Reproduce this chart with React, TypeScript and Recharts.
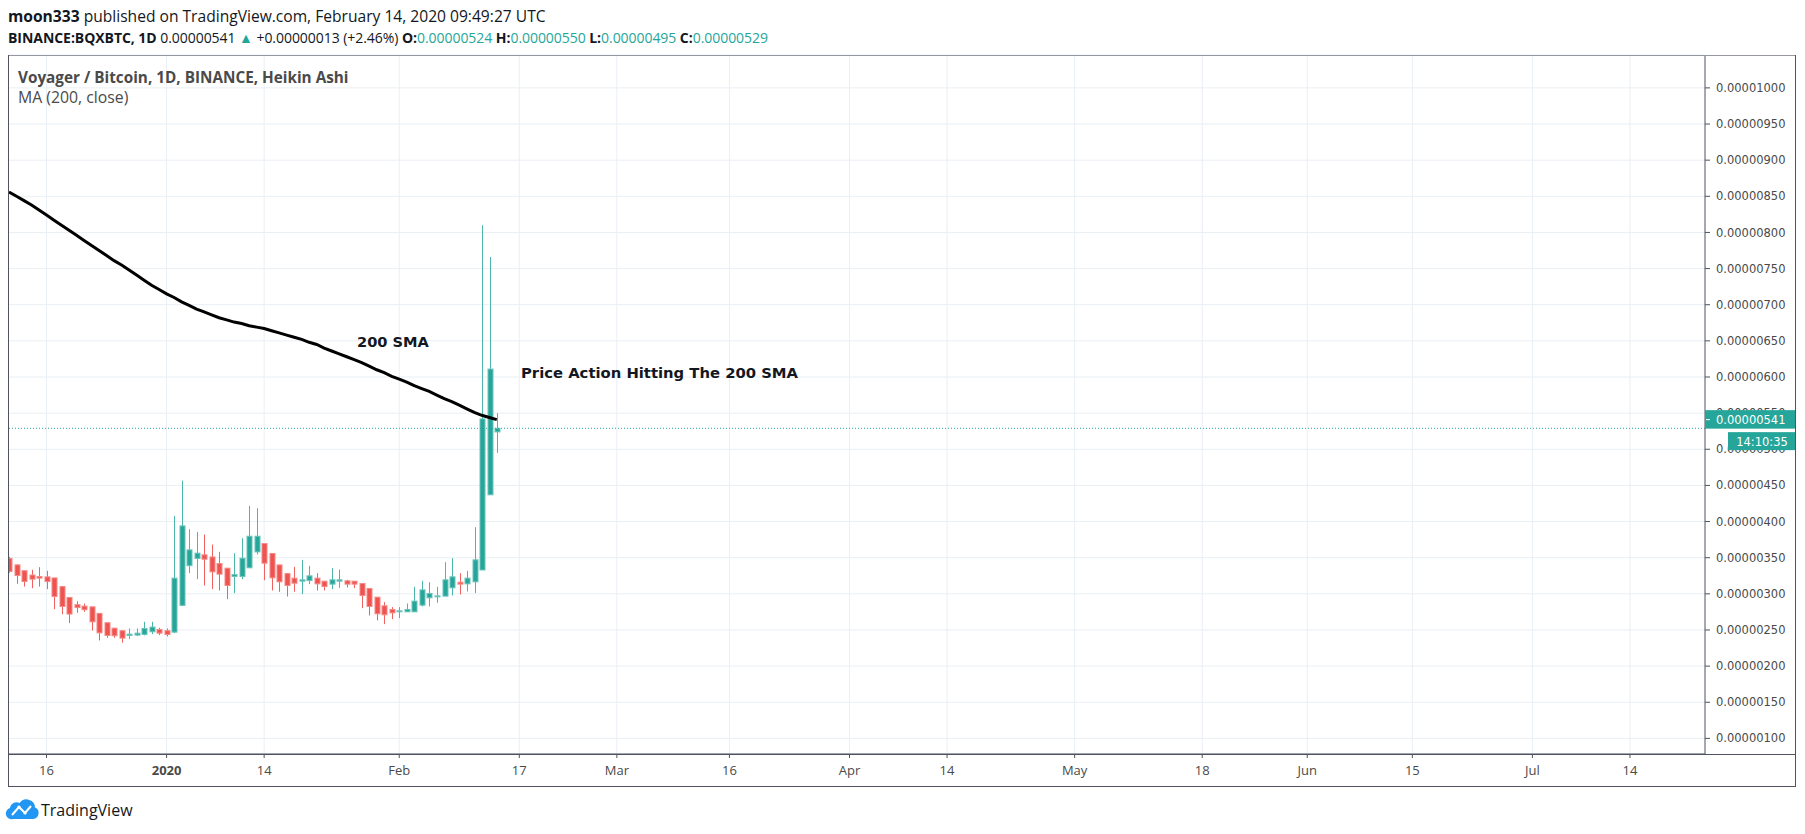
import React from "react";
import {
  ComposedChart,
  Bar,
  Line,
  XAxis,
  YAxis,
  CartesianGrid,
  ReferenceLine,
} from "recharts";

// BINANCE:BQXBTC daily Heikin Ashi candles, Dec 11 2019 .. Feb 14 2020
// prices in satoshi (1e-8 BTC); day 0 = Jan 1 2020
const FIRST_DAY = -21;

const haOpen = [
  349, 340, 332, 326, 324, 323.5, 322, 310, 295, 285, 283, 282, 273, 260, 252.5, 249,
  242.4, 242.9, 243.8, 247.5, 250.7, 249, 247, 284, 339, 349, 354, 351, 342, 335.5,
  324, 324, 336, 358, 369.6, 355.8, 340, 328, 321.7, 317.5, 318.4, 321.7, 317.5, 313.4,
  317.5, 318, 317.5, 314.3, 307.4, 295.4, 283.4, 278.4, 275.1, 275.1, 275.1, 284.3,
  294.5, 296.3, 296.8, 308.3, 316.1, 313.8, 316.6, 333, 437, 524,
];
const haHigh = [
  351, 341, 332, 333.2, 336.9, 331.8, 322, 310, 295.4, 289.9, 286.6, 281.6, 273.3, 259.5,
  252.5, 248.9, 252.1, 252.1, 261.3, 261.3, 253, 252.1, 407.8, 456.7, 389.4, 385.7, 382,
  368.2, 358.1, 335.5, 356.2, 377, 421.7, 418.4, 369.6, 355.8, 340.1, 328.1, 337.3, 347,
  338.7, 328.6, 317.5, 335.5, 333.6, 319.4, 317.5, 314.3, 307.4, 295.4, 288.5, 281.6,
  281.6, 286.6, 309.7, 318, 316.1, 309.7, 343.8, 349.3, 328.6, 331.8, 392.2, 810, 766, 550,
];
const haLow = [
  329, 313.8, 310.1, 307.8, 310.1, 306.5, 278.8, 271.9, 259.5, 273.7, 275.1, 249.3, 235.5,
  239.2, 239.2, 232.3, 237.3, 242, 242.4, 244.2, 242.9, 241, 245.6, 284, 328.6, 320.3,
  311.5, 306.5, 304.6, 292.6, 300.9, 320.3, 336, 354.4, 318.9, 304.6, 302.8, 296.3, 302.8,
  299.6, 313.4, 304.6, 304.6, 306.5, 308.3, 308.8, 307.9, 280.2, 270.1, 263.2, 258.1, 265,
  266.4, 275.1, 275.1, 282.5, 282.5, 287.6, 296.8, 297.7, 299.1, 303.2, 300.9, 333, 437, 495,
];
const haClose = [
  331, 325.4, 317, 320.3, 321.7, 317, 296.3, 282.5, 272, 281, 278, 261.3, 246, 242.4, 242,
  238.7, 244.2, 245.6, 252, 254, 245.6, 243.8, 321.7, 394, 360.8, 356.3, 347.9, 330.4,
  327.2, 311.5, 326.7, 349.3, 379.7, 379.7, 342.4, 322.1, 316.6, 311.5, 314.7, 319.4,
  324.9, 313.8, 310.1, 319.4, 319.4, 313.4, 313.4, 297.7, 282.5, 272.4, 271, 273.7, 276.5,
  278.4, 289.9, 305.5, 300.5, 297.2, 319.4, 323.5, 313.4, 321.7, 347, 542, 611, 529,
];
const sma200 = [
  856, 850, 844, 838, 831, 824, 817, 810, 803, 796, 789, 782, 775, 768, 761, 755, 748, 741,
  734, 727, 721, 715, 710, 704, 699, 694, 690, 686, 682, 679, 676, 674, 671, 669, 667, 664,
  661, 658, 655, 652, 648, 645, 640, 636, 632, 628, 624, 620, 615, 610, 606, 601, 597, 593,
  588, 584, 580, 575, 570, 566, 561, 556, 551, 547, 544, 541,
];

const timeTickDays = [-16, 0, 13, 31, 47, 60, 75, 91, 104, 121, 138, 152, 166, 182, 195];
const timeTickLabels = [
  "16", "2020", "14", "Feb", "17", "Mar", "16", "Apr", "14", "May", "18", "Jun", "15", "Jul", "14",
];
const priceTicks = [
  100, 150, 200, 250, 300, 350, 400, 450, 500, 550, 600, 650, 700, 750, 800, 850, 900, 950, 1000,
];

const LAST_PRICE = 541;
const HA_CLOSE_LINE = 529;
const COUNTDOWN = "14:10:35";

const X_DOMAIN = [-21, 205];
const Y_DOMAIN = [78.4, 1045.5];
// plot area (pane) in page pixels, same as the chart margins below
const PLOT_TOP = 55;
const PLOT_H = 699;
const PLOT_RIGHT = 1705;

const UP = "#26a69a";
const DOWN = "#ef5350";
const GRID = "#e9eff4";
const AXIS = "#50535e";
const TEXT = "#4a4a4a";
const SANS = "'Open Sans', sans-serif";
const AXIS_FONT = "'DejaVu Sans', sans-serif";
const TIME_FONT = "'Liberation Sans Narrow', 'Open Sans', sans-serif";

const rows = haOpen.map((o, i) => ({
  d: FIRST_DAY + i,
  o,
  h: haHigh[i],
  l: haLow[i],
  c: haClose[i],
  ma: sma200[i],
}));

const Candle = (props: any) => {
  const { x, y, width, height, payload } = props;
  if (x == null || !payload) return null;
  const { o, h, l, c } = payload;
  const top = Math.min(y, y + height);
  const bot = Math.max(y, y + height);
  const span = h - l || 1;
  const py = (v: number) => top + ((h - v) / span) * (bot - top);
  const cx = Math.round(x + width / 2) + 0.5;
  const up = c >= o;
  const bodyTop = py(Math.max(o, c));
  const bodyBot = py(Math.min(o, c));
  return (
    <g>
      <line x1={cx} x2={cx} y1={top} y2={bot} stroke={up ? "#4db6ac" : "#f0625f"} strokeWidth={1} />
      <rect
        x={cx - 2.5}
        y={bodyTop}
        width={5}
        height={Math.max(bodyBot - bodyTop, 1)}
        fill={up ? UP : DOWN}
        stroke={up ? "#6cc4ba" : "#f58a87"}
        strokeWidth={1}
      />
    </g>
  );
};

const TimeTick = (props: any) => {
  const { x, y, payload } = props;
  const i = timeTickDays.indexOf(payload.value);
  const label = i >= 0 ? timeTickLabels[i] : "";
  return (
    <text
      x={x}
      y={y + 15}
      textAnchor="middle"
      fontFamily={TIME_FONT}
      fontSize={13}
      fontWeight={label === "2020" ? 700 : 400}
      fill={TEXT}
    >
      {label}
    </text>
  );
};

// last price tag on the price scale, drawn above the axis labels
const PriceTag = () => {
  const cy =
    PLOT_TOP + ((Y_DOMAIN[1] - LAST_PRICE) / (Y_DOMAIN[1] - Y_DOMAIN[0])) * PLOT_H;
  const right = PLOT_RIGHT;
  return (
    <g>
      <rect x={right} y={cy - 9.5} width={91} height={18.5} fill={UP} />
      <line x1={right + 1} x2={right + 5} y1={cy} y2={cy} stroke="#fff" />
      <text x={right + 11} y={cy + 4} fill="#fff" fontFamily={AXIS_FONT} fontSize={11.5}>
        {(LAST_PRICE / 1e8).toFixed(8)}
      </text>
      <rect x={right + 23} y={cy + 12.5} width={68} height={18} fill={UP} />
      <text
        x={right + 57}
        y={cy + 26}
        textAnchor="middle"
        fill="#fff"
        fontFamily={AXIS_FONT}
        fontSize={11.5}
      >
        {COUNTDOWN}
      </text>
    </g>
  );
};

const Overlay = () => (
  <svg
    width={1805}
    height={834}
    style={{ position: "absolute", left: 0, top: 0, pointerEvents: "none" }}
  >
    {/* header */}
    <text x={8} y={22} fontFamily={SANS} fontSize={15.6} fill="#131722">
      <tspan fontWeight={700}>moon333</tspan>
      <tspan> published on TradingView.com, February 14, 2020 09:49:27 UTC</tspan>
    </text>
    <text x={8} y={43} fontFamily={SANS} fontSize={14} letterSpacing={-0.05} fill="#131722">
      <tspan fontWeight={700}>BINANCE:BQXBTC, 1D</tspan>
      <tspan> 0.00000541 </tspan>
      <tspan fill={UP}>▲</tspan>
      <tspan> +0.00000013 (+2.46%) </tspan>
      <tspan fontWeight={700}>O:</tspan>
      <tspan fill={UP}>0.00000524</tspan>
      <tspan fontWeight={700}> H:</tspan>
      <tspan fill={UP}>0.00000550</tspan>
      <tspan fontWeight={700}> L:</tspan>
      <tspan fill={UP}>0.00000495</tspan>
      <tspan fontWeight={700}> C:</tspan>
      <tspan fill={UP}>0.00000529</tspan>
    </text>

    {/* pane legend */}
    <text x={18} y={82.5} fontFamily={SANS} fontSize={15.3} fontWeight={700} fill={TEXT}>
      Voyager / Bitcoin, 1D, BINANCE, Heikin Ashi
    </text>
    <text x={18} y={103} fontFamily={SANS} fontSize={15.8} fill={TEXT}>
      MA (200, close)
    </text>

    {/* annotations */}
    <text x={357} y={347} fontFamily="'DejaVu Sans', sans-serif" fontWeight={700} fontSize={14.6} fill="#131722">
      200 SMA
    </text>
    <text x={521} y={378} fontFamily="'DejaVu Sans', sans-serif" fontWeight={700} fontSize={14.8} fill="#131722">
      Price Action Hitting The 200 SMA
    </text>

    <PriceTag />

    {/* frame */}
    <g stroke={AXIS} strokeWidth={1} fill="none">
      <line x1={8.5} x2={1795.5} y1={55.5} y2={55.5} stroke="#9598a1" />
      <line x1={8.5} x2={8.5} y1={55} y2={787} />
      <line x1={1795.5} x2={1795.5} y1={55} y2={787} />
      <line x1={8.5} x2={1795.5} y1={754.5} y2={754.5} />
      <line x1={8.5} x2={1795.5} y1={786.5} y2={786.5} />
    </g>

    {/* logo */}
    <g>
      <path
        d="M13 819 H33 A6 6 0 0 0 35 807.5 A8.5 8.5 0 0 0 19.5 803 A6.5 6.5 0 0 0 10 808 A5.6 5.6 0 0 0 13 819 Z"
        fill="#2196f3"
      />
      <polyline points="12,815 19,807 25,813 31,806" fill="none" stroke="#fff" strokeWidth={2} />
      <circle cx={19} cy={807} r={1.6} fill="#fff" />
      <circle cx={25} cy={813} r={1.6} fill="#fff" />
      <text x={41} y={816} fontFamily={SANS} fontSize={16} fill="#131722">
        TradingView
      </text>
    </g>
  </svg>
);

export default function App() {
  return (
    <div
      style={{
        position: "absolute",
        left: 0,
        top: 0,
        width: 1805,
        height: 834,
        background: "#fff",
      }}
    >
      <ComposedChart
        width={1805}
        height={834}
        data={rows}
        margin={{ top: PLOT_TOP, right: 9, bottom: 47, left: 9 }}
      >
        <CartesianGrid stroke={GRID} verticalValues={timeTickDays} />
        <XAxis
          dataKey="d"
          type="number"
          domain={X_DOMAIN}
          allowDataOverflow
          ticks={timeTickDays}
          interval={0}
          height={33}
          tickSize={4}
          tickMargin={2}
          stroke={AXIS}
          tick={<TimeTick />}
        />
        <YAxis
          orientation="right"
          type="number"
          domain={Y_DOMAIN}
          allowDataOverflow
          ticks={priceTicks}
          interval={0}
          width={91}
          tickSize={5}
          tickMargin={6}
          stroke={AXIS}
          tick={{ fill: TEXT, fontSize: 11.5, fontFamily: AXIS_FONT }}
          tickFormatter={(v: number) => (v / 1e8).toFixed(8)}
        />
        <ReferenceLine y={HA_CLOSE_LINE} stroke={UP} strokeDasharray="1 2" />
        <Bar
          dataKey={(r: any) => [r.l, r.h]}
          barSize={6}
          shape={<Candle />}
          isAnimationActive={false}
        />
        <Line
          dataKey="ma"
          stroke="#000"
          strokeWidth={3}
          dot={false}
          activeDot={false}
          isAnimationActive={false}
        />
      </ComposedChart>
      <Overlay />
    </div>
  );
}
